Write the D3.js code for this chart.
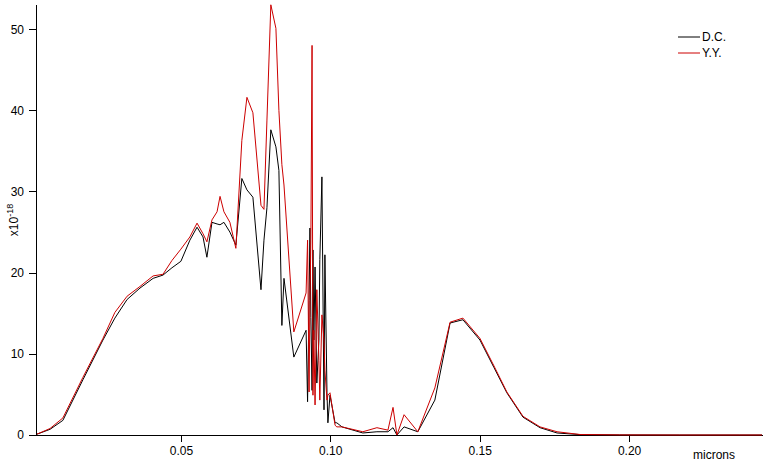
<!DOCTYPE html>
<html>
<head>
<meta charset="utf-8">
<script src="https://cdn.jsdelivr.net/npm/d3@7"></script>
<style>
  html, body { margin: 0; padding: 0; background: #fff; }
  svg { display: block; font-family: "Liberation Sans", Arial, sans-serif; }
  .axis text { font-size: 12px; fill: #000; }
  .axis path, .axis line { stroke: #000; shape-rendering: crispEdges; }
</style>
</head>
<body>
<svg id="chart" width="766" height="465"></svg>
<script>
// Data (x in microns, y in units of 1e-18)
const microns = [0.0018,0.0062,0.0105,0.0172,0.0239,0.0279,0.0320,0.0363,0.0407,0.0440,
  0.0470,0.0500,0.0530,0.0554,0.0574,0.0587,0.0604,0.0621,0.0631,0.0644,
  0.0664,0.0684,0.0704,0.0721,0.0741,0.0768,0.0778,0.0788,0.0801,0.0818,
  0.0828,0.0838,0.0845,0.0878,0.0919,0.0924,0.0929,0.0932,0.0935,0.0939,
  0.0942,0.0945,0.0949,0.0955,0.0962,0.0965,0.0972,0.0979,0.0982,0.0989,
  0.0992,0.0999,0.1016,0.1022,0.1039,0.1109,0.1156,0.1193,0.1210,0.1223,
  0.1247,0.1293,0.1350,0.1401,0.1444,0.1501,0.1548,0.1591,0.1645,0.1702,
  0.1759,0.1836,0.1969,0.2170,0.2371,0.2445];
const dc = [0.1,0.7,1.8,6.8,11.7,14.4,16.7,18.1,19.3,19.7,
  20.6,21.4,24.0,25.6,24.4,21.9,26.2,26.0,25.9,26.2,
  25.0,23.4,31.6,30.2,29.3,17.9,24.0,28.0,37.6,35.5,
  32.6,13.5,19.3,9.6,12.9,4.1,16.6,25.5,14.5,5.5,
  22.8,11.7,20.7,6.4,11.7,21.6,31.8,3.1,22.2,5.2,
  1.5,4.9,1.5,1.5,1.0,0.25,0.4,0.4,0.9,0.0,
  1.0,0.4,4.3,13.8,14.2,11.7,8.3,5.2,2.2,0.9,
  0.25,0.05,0.01,0,0,0];
const yy = [0.1,0.8,2.1,7.1,11.9,15.1,17.1,18.3,19.6,19.8,
  21.5,22.9,24.4,26.1,24.8,23.8,26.5,27.5,29.4,27.5,
  26.2,23.0,36.3,41.6,39.7,28.3,27.8,38.8,53.0,50.1,
  40.0,33.3,30.8,12.7,17.5,24.0,5.3,16.6,24.0,48.0,
  4.9,12.9,3.7,17.9,9.2,4.3,14.8,11.7,8.0,4.3,
  4.9,5.2,1.2,1.0,1.0,0.4,0.9,0.6,3.4,0.0,
  2.5,0.4,5.8,13.9,14.4,11.9,8.5,5.3,2.3,1.0,
  0.4,0.06,0.01,0,0,0];
const xTicks = [0.05, 0.10, 0.15, 0.20];
const yTicks = [0, 10, 20, 30, 40, 50];
const seriesNames = ["D.C.", "Y.Y."];
const seriesColors = ["#000000", "#cc0000"];

const svg = d3.select("#chart");
const x = d3.scaleLinear().domain([0.0015, 0.2445]).range([36, 762]);
const y = d3.scaleLinear().domain([0, 53.1]).range([435, 4]);

// axes
svg.append("g").attr("class", "axis")
  .attr("transform", "translate(0,435)")
  .call(d3.axisBottom(x).tickValues(xTicks).tickFormat(d3.format(".2f"))
    .tickSize(7).tickSizeOuter(0).tickPadding(4));
svg.append("g").attr("class", "axis")
  .attr("transform", "translate(36,0)")
  .call(d3.axisLeft(y).tickValues(yTicks).tickSize(7).tickSizeOuter(0).tickPadding(5));

svg.append("text").attr("x", 735).attr("y", 459)
  .attr("text-anchor", "end").style("font-size", "12px").text("microns");

const yl = svg.append("text")
  .attr("transform", "translate(18,220) rotate(-90)")
  .attr("text-anchor", "middle").style("font-size", "12px");
yl.append("tspan").text("x10");
yl.append("tspan").attr("dy", "-5").style("font-size", "9px").text("-18");

// lines
const seriesData = [dc, yy];
const line = d3.line().x((d, i) => x(microns[i])).y(d => y(d));
seriesData.forEach((s, k) => {
  svg.append("path").datum(s)
    .attr("fill", "none").attr("stroke", seriesColors[k])
    .attr("stroke-width", 1).attr("d", line);
});

// legend
seriesNames.forEach((n, k) => {
  const yy0 = 37 + k * 16;
  svg.append("line").attr("x1", 678).attr("x2", 700).attr("y1", yy0).attr("y2", yy0)
    .attr("stroke", seriesColors[k]).attr("stroke-width", 1);
  svg.append("text").attr("x", 702).attr("y", yy0 + 4)
    .style("font-size", "12px").text(n);
});
</script>
</body>
</html>
